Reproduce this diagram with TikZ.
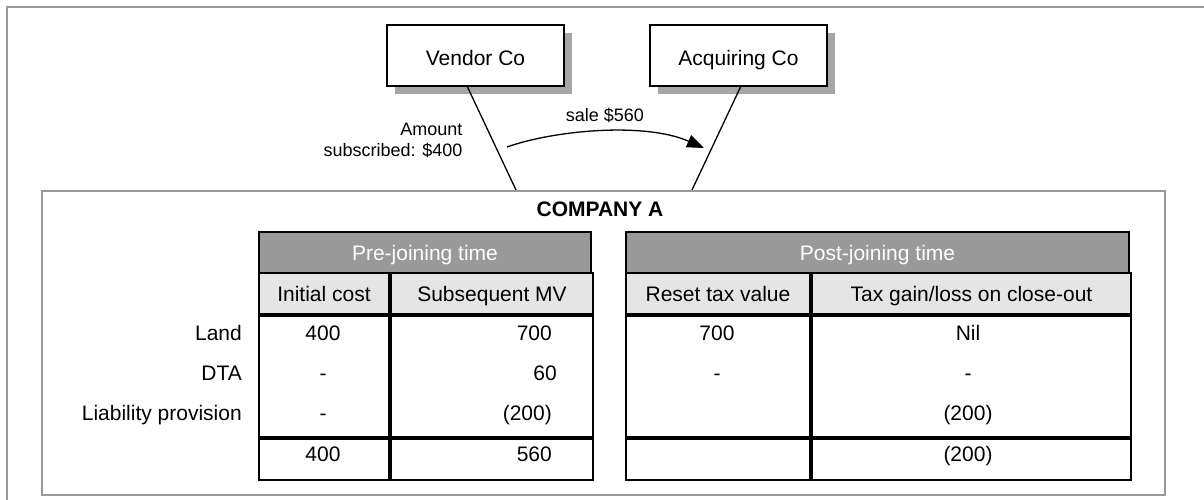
\documentclass[tikz,border=0pt]{standalone}
\usepackage{fontspec}
\setmainfont{Liberation Sans}
\usetikzlibrary{positioning}
\usetikzlibrary{arrows.meta}

\begin{document}
\begin{tikzpicture}[x=1pt,y=-1pt,
			frame/.style={draw=gray!80,line width=2pt},
			cobox/.style={draw,line width=2pt,fill=white,minimum width=177pt,minimum height=61pt,font=\fontsize{21}{25}\selectfont,text height=20pt,text depth=0pt},
			boxshadow/.style={fill=black!35,minimum width=177pt,minimum height=61pt,inner sep=0pt},
			link/.style={line width=1.3pt},
			note/.style={font=\fontsize{18}{21}\selectfont,align=right},
			cell/.style={draw,line width=2pt,anchor=north west,inner sep=0pt,font=\fontsize{21}{25}\selectfont,text height=15pt,text depth=0pt},
			headcell/.style={cell,fill=gray!80,text=white,minimum height=41pt},
			subcell/.style={cell,fill=gray!20,minimum height=41pt},
			val/.style={font=\fontsize{21}{25}\selectfont,text height=15pt,text depth=0pt,inner sep=0pt}]
			\useasboundingbox (0,0) rectangle (1204,500);
			\draw[frame] (7,500) -- (7,7) -- (1204,7);
			% companies on top, shadows behind them
			\node[boxshadow] (vshadow) at (483.5,63.5) {};
			\node[boxshadow, right=86pt of vshadow] (ashadow) {};
			\node[cobox] (vendor) at (475.5,55.5) {Vendor Co};
			\node[cobox, right=84pt of vendor] (acq) {Acquiring Co};
			\node[frame,minimum width=1123pt,minimum height=304pt,anchor=north west] (cmpframe) at (41,190) {};
			\node[val,font=\bfseries\fontsize{21}{25}\selectfont] (cmpname) at (600,209) {COMPANY A};
			\coordinate (vfoot) at (516,190);
			\coordinate (afoot) at (692,190);
			\draw[link] ([xshift=-8pt]vendor.south) -- (vfoot);
			\draw[link] ([xshift=2pt]acq.south) -- (afoot);
			\coordinate (salefrom) at (507,147);
			\coordinate (saleto) at (704,148);
			\draw[link,-{Triangle[length=17pt,width=13pt]}] (salefrom) .. controls (555,130) and (645,122) .. (saleto);
			\node[note] (salelbl) at (605,115) {sale \$560};
			\node[note,anchor=base east] (amtlbl) at (466,156.5) {Amount\\subscribed: \$400};
			% pre-joining table
			\node[headcell,minimum width=332pt] (prehd) at (258,231) {Pre-joining time};
			\node[subcell,minimum width=130pt] (ic) at (258,272) {Initial cost};
			\node[subcell,minimum width=202pt,right=0pt of ic] (mv) {Subsequent MV};
			\node[cell,minimum width=130pt,minimum height=121pt,below=0pt of ic] (icbody) {};
			\node[cell,minimum width=202pt,minimum height=121pt,below=0pt of mv] (mvbody) {};
			\node[cell,minimum width=130pt,minimum height=41pt,below=0pt of icbody] (ictot) {};
			\node[cell,minimum width=202pt,minimum height=41pt,below=0pt of mvbody] (mvtot) {};
			% post-joining table
			\node[headcell,minimum width=503pt] (posthd) at (625,231) {Post-joining time};
			\node[subcell,minimum width=184pt] (rtv) at (625,272) {Reset tax value};
			\node[subcell,minimum width=319pt,right=0pt of rtv] (tgl) {Tax gain/loss on close-out};
			\node[cell,minimum width=184pt,minimum height=121pt,below=0pt of rtv] (rtvbody) {};
			\node[cell,minimum width=319pt,minimum height=121pt,below=0pt of tgl] (tglbody) {};
			\node[cell,minimum width=184pt,minimum height=41pt,below=0pt of rtvbody] (rtvtot) {};
			\node[cell,minimum width=319pt,minimum height=41pt,below=0pt of tglbody] (tgltot) {};
			% row labels
			\node[val,anchor=east] (land) at (242,333) {Land};
			\node[val,anchor=east] (dta) at (242,373) {DTA};
			\node[val,anchor=east] (liab) at (242,413) {Liability provision};
			% values
			\node[val] (icland) at (323,333) {400};
			\node[val] (icdta) at (323,373) {-};
			\node[val] (icliab) at (323,413) {-};
			\node[val] (icsum) at (323,454) {400};
			\node[val,anchor=east] (mvland) at (552,333) {700};
			\node[val,anchor=east] (mvdta) at (557,373) {60};
			\node[val,anchor=east] (mvliab) at (552,413) {(200)};
			\node[val,anchor=east] (mvsum) at (552,454) {560};
			\node[val] (rtvland) at (717,333) {700};
			\node[val] (rtvdta) at (717,373) {-};
			\node[val] (tglland) at (968,333) {Nil};
			\node[val] (tgldta) at (968,373) {-};
			\node[val] (tglliab) at (968,413) {(200)};
			\node[val] (tglsum) at (968,454) {(200)};
		\end{tikzpicture}
\end{document}
